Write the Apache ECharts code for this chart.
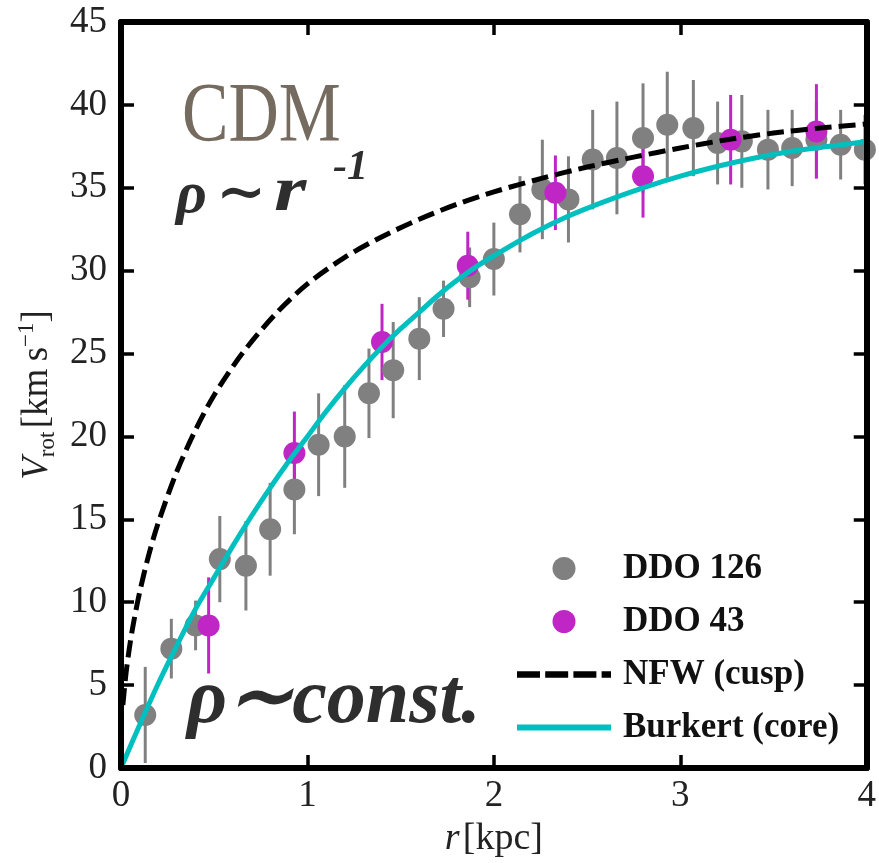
<!DOCTYPE html>
<html><head><meta charset="utf-8">
<script src="https://cdn.jsdelivr.net/npm/echarts@6/dist/echarts.min.js"></script>
<style>html,body{margin:0;padding:0;background:#fff}#c{width:879px;height:863px}</style>
</head><body><div id="c"></div>
<script>
// DDO 126 (gray)
const ddo126_r = [0.13,0.27,0.40,0.53,0.67,0.80,0.93,1.06,1.20,1.33,1.46,1.60,1.73,1.87,2.00,2.14,2.26,2.40,2.53,2.66,2.80,2.93,3.07,3.20,3.33,3.47,3.60,3.73,3.86,3.99];
const ddo126_v = [3.2,7.2,8.6,12.6,12.2,14.4,16.8,19.5,20.0,22.6,24.0,25.9,27.7,29.6,30.7,33.4,34.9,34.3,36.7,36.8,38.0,38.8,38.6,37.7,37.8,37.3,37.4,37.9,37.6,37.3];
const ddo126_err = [2.9,1.8,1.5,2.6,2.7,2.8,2.7,3.1,3.1,2.7,2.9,2.5,1.7,1.8,2.2,2.3,3.0,2.6,3.0,3.4,3.3,3.2,2.9,2.5,2.8,2.4,2.3,2.3,2.1,2.1];
// DDO 43 (magenta)
const ddo43_r = [0.47,0.93,1.40,1.86,2.33,2.80,3.27,3.73];
const ddo43_v = [8.6,19.0,25.7,30.3,34.7,35.7,37.9,38.4];
const ddo43_err = [2.9,2.5,2.3,2.05,2.25,2.5,2.7,2.85];
// NFW (cusp) curve
const nfw_r = [0.01,0.03,0.06,0.10,0.15,0.20,0.30,0.40,0.50,0.65,0.83,1.00,1.20,1.40,1.60,1.80,2.00,2.25,2.50,2.75,3.00,3.25,3.50,3.75,4.00];
const nfw_v = [3.8,6.0,8.3,10.6,12.9,14.8,17.9,20.4,22.5,25.0,27.4,29.2,30.8,32.05,33.1,34.0,34.75,35.55,36.25,36.85,37.4,37.9,38.3,38.6,38.85];
// Burkert (core) curve
const bur_r = [0,0.1,0.2,0.3,0.4,0.5,0.6,0.7,0.8,0.9,1.0,1.1,1.2,1.3,1.4,1.5,1.6,1.7,1.8,1.9,2.0,2.2,2.4,2.6,2.8,3.0,3.2,3.4,3.6,3.8,4.0];
const bur_v = [0,2.6,5.1,7.4,9.6,11.5,13.4,15.2,16.9,18.5,20.0,21.5,22.9,24.2,25.4,26.5,27.5,28.5,29.4,30.2,30.9,32.2,33.3,34.2,35.0,35.7,36.3,36.8,37.2,37.5,37.8];
// axes
const xMin = 0, xMax = 4, xStep = 1;
const yMin = 0, yMax = 45, yStep = 5;

const GRAY = '#808080', MAG = '#c026c6', CYAN = '#00bfbf';
const SERIF = '"Liberation Serif", "DejaVu Serif", serif';

function errSeries(name, rs, vs, es, color) {
  return {
    type: 'custom', name: name, silent: true, z: 2,
    data: rs.map((r, i) => [r, vs[i] - es[i], vs[i] + es[i]]),
    encode: { x: 0, y: [1, 2] },
    renderItem: function (params, api) {
      const p1 = api.coord([api.value(0), api.value(1)]);
      const p2 = api.coord([api.value(0), api.value(2)]);
      return { type: 'line', shape: { x1: p1[0], y1: p1[1], x2: p2[0], y2: p2[1] },
               style: { stroke: color, lineWidth: 3 } };
    }
  };
}
function axisCommon(extra) {
  return Object.assign({
    type: 'value', zlevel: 1, z: 10,
    axisLine: { show: true, onZero: false, lineStyle: { color: '#000', width: 6 } },
    axisTick: { show: true, inside: true, length: 13, lineStyle: { color: '#000', width: 3.5 } },
    splitLine: { show: false }
  }, extra);
}
const dashIcon = 'path://M0,0H22V6H0Z M27,0H49V6H27Z M54,0H76V6H54Z M81,0H90V6H81Z';
const solidIcon = 'path://M0,0H96V6H0Z';

const chart = echarts.init(document.getElementById('c'));
chart.setOption({
  animation: false,
  backgroundColor: '#fff',
  grid: { left: 121, right: 9, top: 22, bottom: 95, containLabel: false },
  xAxis: [
    axisCommon({ min: xMin, max: xMax, interval: xStep, position: 'bottom',
      axisLabel: { fontSize: 37, fontFamily: SERIF, color: '#222', margin: 10, showMinLabel: true, showMaxLabel: true },
      name: '{i|r} {n|[kpc]}', nameLocation: 'middle', nameGap: 48,
      nameTextStyle: { rich: {
        i: { fontSize: 38, fontStyle: 'italic', fontFamily: SERIF, color: '#222' },
        n: { fontSize: 38, fontFamily: SERIF, color: '#222' } } } }),
    axisCommon({ min: xMin, max: xMax, interval: xStep, position: 'top', axisLabel: { show: false } })
  ],
  yAxis: [
    axisCommon({ min: yMin, max: yMax, interval: yStep, position: 'left',
      axisLabel: { fontSize: 37, fontFamily: SERIF, color: '#222', margin: 14, showMinLabel: true, showMaxLabel: true },
      name: '{i|V}{s|rot} {n|[km\u2009s}{p|\u22121}{n|]}', nameLocation: 'middle', nameGap: 60,
      nameTextStyle: { rich: {
        i: { fontSize: 37, fontStyle: 'italic', fontFamily: SERIF, color: '#222', lineHeight: 44 },
        s: { fontSize: 23, fontFamily: SERIF, color: '#222', lineHeight: 18, verticalAlign: 'bottom' },
        n: { fontSize: 37, fontFamily: SERIF, color: '#222', lineHeight: 44 },
        p: { fontSize: 23, fontFamily: SERIF, color: '#222', lineHeight: 14, verticalAlign: 'top' } } } }),
    axisCommon({ min: yMin, max: yMax, interval: yStep, position: 'right', axisLabel: { show: false } })
  ],
  legend: {
    orient: 'vertical', left: 517, top: 551, padding: 0, itemGap: 18,
    itemWidth: 94, itemHeight: 23,
    textStyle: { fontSize: 35, fontWeight: 'bold', fontFamily: SERIF, color: '#111', lineHeight: 33, padding: [0, 0, 0, 7] },
    data: [
      { name: 'DDO 126', icon: 'circle' },
      { name: 'DDO 43', icon: 'circle' },
      { name: 'NFW (cusp)', icon: dashIcon, itemStyle: { color: '#000', borderWidth: 0 } },
      { name: 'Burkert (core)', icon: solidIcon, itemStyle: { color: CYAN, borderWidth: 0 } }
    ]
  },
  graphic: [
    { type: 'text', x: 182, y: 119, scaleX: 0.83, silent: true, z: 5,
      style: { text: 'CDM', font: '84px "Liberation Serif"', fill: '#756b5f', verticalAlign: 'middle' } },
    { type: 'text', x: 176, y: 196, silent: true, z: 5,
      style: { text: '\u03c1', font: 'italic bold 60px "Liberation Serif"', fill: '#2e2e2e', verticalAlign: 'middle' } },
    { type: 'text', x: 216, y: 196, silent: true, z: 5,
      style: { text: '\u223c', font: 'bold 60px "DejaVu Serif"', fill: '#2e2e2e', verticalAlign: 'middle' } },
    { type: 'text', x: 274, y: 193, scaleX: 1.3, silent: true, z: 5,
      style: { text: 'r', font: 'italic bold 64px "Liberation Serif"', fill: '#2e2e2e', verticalAlign: 'middle' } },
    { type: 'text', x: 333, y: 168, silent: true, z: 5,
      style: { text: '-1', font: 'italic bold 42px "Liberation Serif"', fill: '#2e2e2e', verticalAlign: 'middle' } },
    { type: 'text', x: 187, y: 702, silent: true, z: 5,
      style: { text: '\u03c1\u223cconst.', font: 'italic bold 78px "Liberation Serif"', fill: '#2e2e2e', verticalAlign: 'middle' } }
  ],
  series: [
    errSeries('err126', ddo126_r, ddo126_v, ddo126_err, GRAY),
    { type: 'scatter', name: 'DDO 126', z: 2, symbol: 'circle', symbolSize: 22,
      itemStyle: { color: GRAY, opacity: 1 },
      data: ddo126_r.map((r, i) => [r, ddo126_v[i]]) },
    errSeries('err43', ddo43_r, ddo43_v, ddo43_err, MAG),
    { type: 'scatter', name: 'DDO 43', z: 2, symbol: 'circle', symbolSize: 22,
      itemStyle: { color: MAG, opacity: 1 },
      data: ddo43_r.map((r, i) => [r, ddo43_v[i]]) },
    { type: 'line', name: 'NFW (cusp)', z: 3, symbol: 'none', smooth: 0.3,
      lineStyle: { color: '#000', width: 5, type: [17, 7] }, itemStyle: { color: '#000' },
      data: nfw_r.map((r, i) => [r, nfw_v[i]]) },
    { type: 'line', name: 'Burkert (core)', z: 3, symbol: 'none', smooth: 0.3,
      lineStyle: { color: CYAN, width: 5 }, itemStyle: { color: CYAN },
      data: bur_r.map((r, i) => [r, bur_v[i]]) }
  ]
});
</script></body></html>
